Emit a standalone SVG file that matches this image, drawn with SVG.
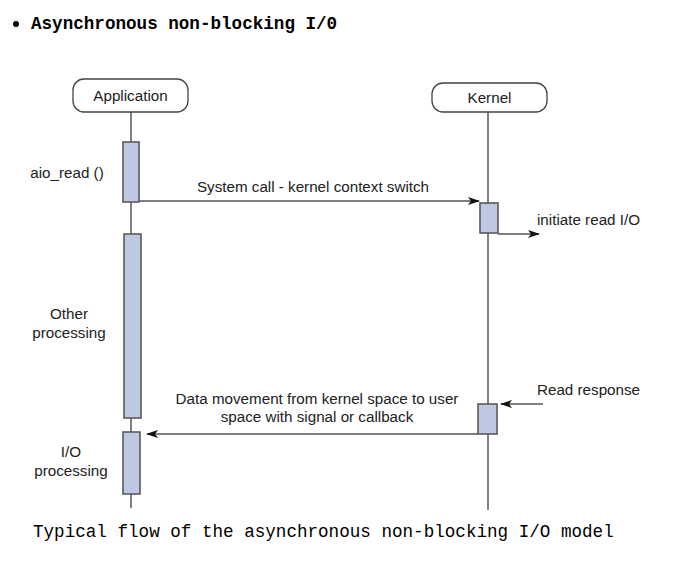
<svg xmlns="http://www.w3.org/2000/svg" width="692" height="588" viewBox="0 0 692 588">
<defs>
<style>
.lbl{font-family:"Liberation Sans",Arial,sans-serif;font-size:15.2px;fill:#222}
.mono{font-family:"Liberation Mono","Courier New",monospace;font-size:17.6px;fill:#000}
.box{fill:#fff;stroke:#444;stroke-width:1.3}
.life{stroke:#808080;stroke-width:2;fill:none}
.bar{fill:#bfc8e2;stroke:#5a5a5a;stroke-width:1.6}
.msg{stroke:#555;stroke-width:1.6;fill:none;marker-end:url(#ah)}
</style>
<marker id="ah" viewBox="0 0 12 8" refX="11" refY="4" markerWidth="12" markerHeight="8" markerUnits="userSpaceOnUse" orient="auto">
<path d="M0,0 L12,4 L0,8 L3,4 Z" fill="#111"/>
</marker>
</defs>
<rect width="692" height="588" fill="#fff"/>
<circle cx="16" cy="24" r="3" fill="#000"/>
<text class="mono" x="31" y="29" font-weight="bold">Asynchronous non-blocking I/0</text>
<g id="application">
<line class="life" x1="131" y1="112" x2="131" y2="508"/>
<rect class="box" x="73" y="79" width="115" height="33" rx="11"/>
<text class="lbl" x="130.5" y="101" text-anchor="middle">Application</text>
</g>
<g id="kernel">
<line class="life" x1="488" y1="112" x2="488" y2="510"/>
<rect class="box" x="432" y="83" width="115" height="29" rx="11"/>
<text class="lbl" x="489.5" y="103" text-anchor="middle">Kernel</text>
</g>
<g id="app-bar-aio">
<rect class="bar" x="123" y="142" width="16" height="60"/>
<text class="lbl" x="67" y="178" text-anchor="middle">aio_read ()</text>
</g>
<g id="app-bar-other">
<rect class="bar" x="124" y="234" width="17" height="184"/>
<text class="lbl" x="69" y="319" text-anchor="middle">Other</text>
<text class="lbl" x="69" y="338" text-anchor="middle">processing</text>
</g>
<g id="app-bar-io">
<rect class="bar" x="123" y="432" width="17" height="62"/>
<text class="lbl" x="71" y="457" text-anchor="middle">I/O</text>
<text class="lbl" x="71" y="476" text-anchor="middle">processing</text>
</g>
<g id="kernel-bar-initiate">
<rect class="bar" x="480" y="203" width="18" height="30"/>
<text class="lbl" x="537" y="225">initiate read I/O</text>
</g>
<g id="kernel-bar-response">
<rect class="bar" x="478" y="404" width="19" height="30"/>
<text class="lbl" x="537" y="395">Read response</text>
</g>
<g id="connectors">
<line class="msg" x1="139" y1="201" x2="479" y2="201"/>
<text class="lbl" x="313" y="192" text-anchor="middle">System call - kernel context switch</text>
<line class="msg" x1="498" y1="234" x2="539" y2="234"/>
<line class="msg" x1="543" y1="404" x2="501" y2="404"/>
<line class="msg" x1="478" y1="434" x2="147" y2="434"/>
<text class="lbl" x="317" y="404" text-anchor="middle">Data movement from kernel space to user</text>
<text class="lbl" x="317" y="422" text-anchor="middle">space with signal or callback</text>
</g>
<text class="mono" x="33" y="537" fill="#222">Typical flow of the asynchronous non-blocking I/O model</text>
</svg>
